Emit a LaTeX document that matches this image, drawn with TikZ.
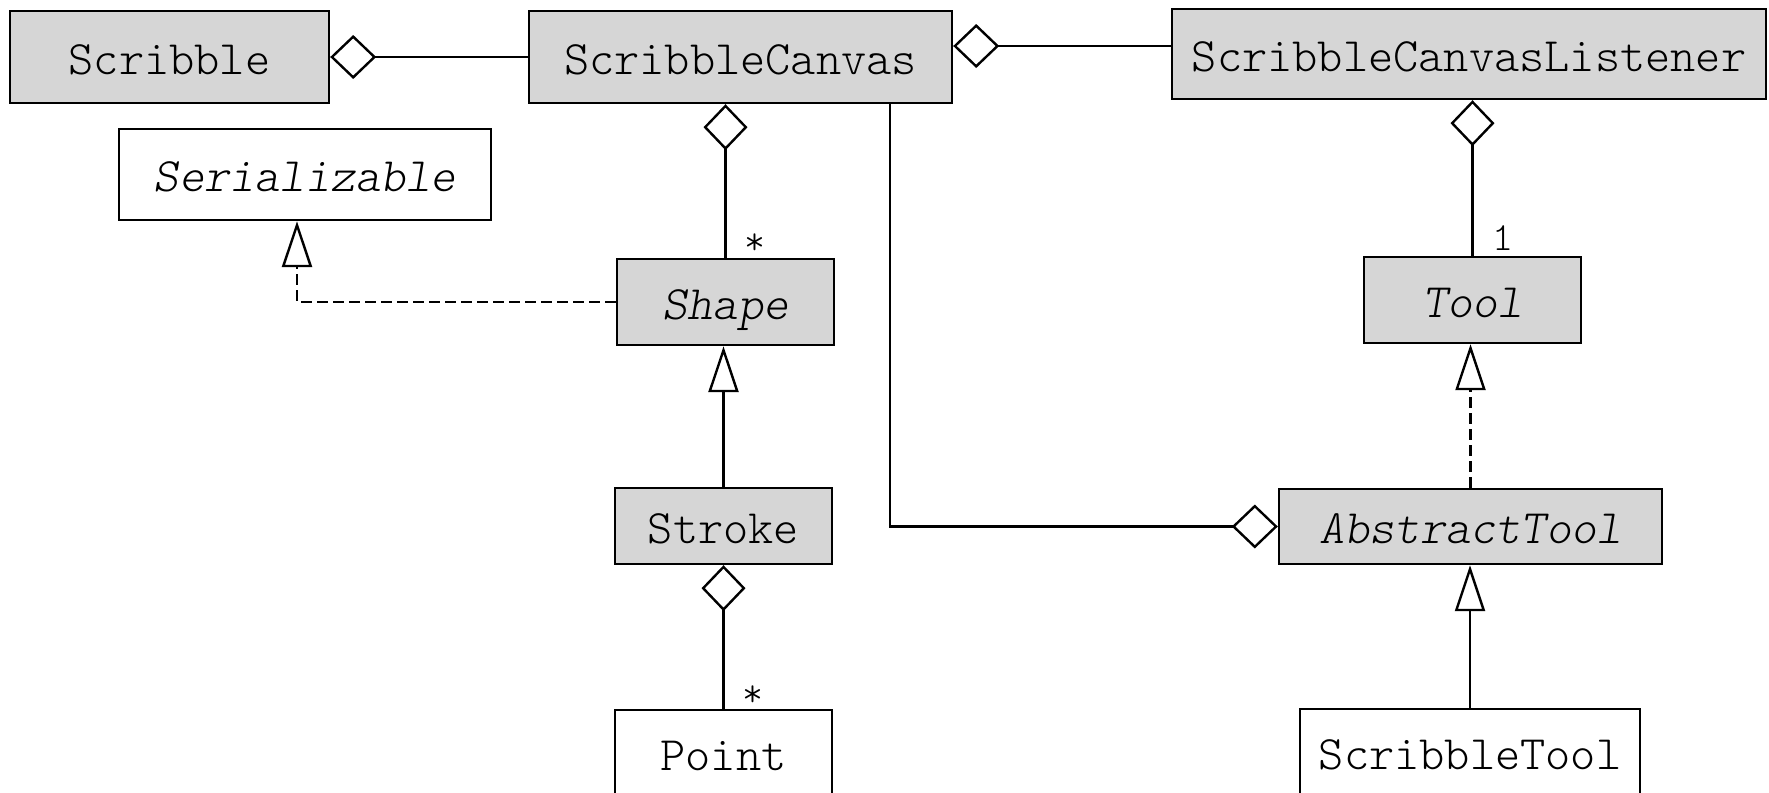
\documentclass[tikz,border=0pt]{standalone}
\usepackage{fontspec}
\setmonofont{lmmonolt10-regular.otf}[ItalicFont=lmmonolt10-oblique.otf]
\usetikzlibrary{arrows.meta}

\definecolor{boxgray}{RGB}{214,214,214}

\tikzset{
    umlbox/.style={draw, line width=1.2pt, inner sep=0pt, text height=17pt, text depth=0pt,
        font=\ttfamily\fontsize{24}{28}\selectfont},
    filledbox/.style={umlbox, fill=boxgray},
    abstract/.style={font=\ttfamily\itshape\fontsize{24}{28}\selectfont},
    link/.style={line width=1.2pt},
    aggr/.style={link, -{Diamond[open, length=23pt, width=22pt]}},
    inherit/.style={link, -{Triangle[open, length=23pt, width=15pt]}},
    realize/.style={inherit, dash pattern=on 5.5pt off 2.5pt},
    mult/.style={font=\ttfamily\fontsize{20}{22}\selectfont, inner sep=0pt, anchor=base}
}

\begin{document}
\begin{tikzpicture}[x=0.5pt, y=-0.5pt]

    \useasboundingbox (0,0) rectangle (1769,793);
    \clip (0,0) rectangle (1769,793);

    % Classes
    \node[filledbox, minimum width=159.5pt, minimum height=46pt] (scribble) at (169.5,57) {Scribble};
    \node[filledbox, minimum width=211.5pt, minimum height=46pt] (canvas) at (740.5,57) {ScribbleCanvas};
    \node[filledbox, minimum width=297pt, minimum height=45pt] (listener) at (1469,54) {ScribbleCanvasListener};
    \node[umlbox, abstract, minimum width=186pt, minimum height=45.5pt] (serial) at (305,174.5) {Serializable};
    \node[filledbox, abstract, minimum width=108.5pt, minimum height=43pt] (shape) at (725.5,302) {Shape};
    \node[filledbox, abstract, minimum width=108.5pt, minimum height=43pt] (tool) at (1472.5,300) {Tool};
    \node[filledbox, minimum width=108.5pt, minimum height=38pt] (stroke) at (723.5,526) {Stroke};
    \node[filledbox, abstract, minimum width=191.5pt, minimum height=37.5pt] (abstool) at (1470.5,526.5) {AbstractTool};
    \node[umlbox, minimum width=108.5pt, minimum height=43pt] (point) at (723.5,753) {Point};
    \node[umlbox, minimum width=170pt, minimum height=43pt] (stool) at (1470,752) {ScribbleTool};

    % Aggregations
    \draw[aggr] (canvas) -- (scribble);
    \draw[aggr] ([yshift=4pt]listener.west) -- ([yshift=5.5pt]canvas.east);
    \draw[aggr] (shape.north) -- (shape.north |- canvas.south);
    \draw[aggr] (point.north) -- (point.north |- stroke.south);
    \draw[aggr] (tool.north) -- (tool.north |- listener.south);
    \draw[aggr] ([xshift=74.75pt]canvas.south) |- (abstool.west);

    % Multiplicities
    \node[mult] (shapemult) at (755,254) {*};
    \node[mult] (pointmult) at (753,706) {*};
    \node[mult] (toolmult) at (1503,250) {1};

    % Inheritance
    \draw[realize] (shape.west) -| ([xshift=-4pt]serial.south);
    \draw[inherit] (stroke.north) -- (stroke.north |- shape.south);
    \draw[realize] (abstool.north) -- (abstool.north |- tool.south);
    \draw[inherit] (stool.north) -- (stool.north |- abstool.south);

\end{tikzpicture}
\end{document}
